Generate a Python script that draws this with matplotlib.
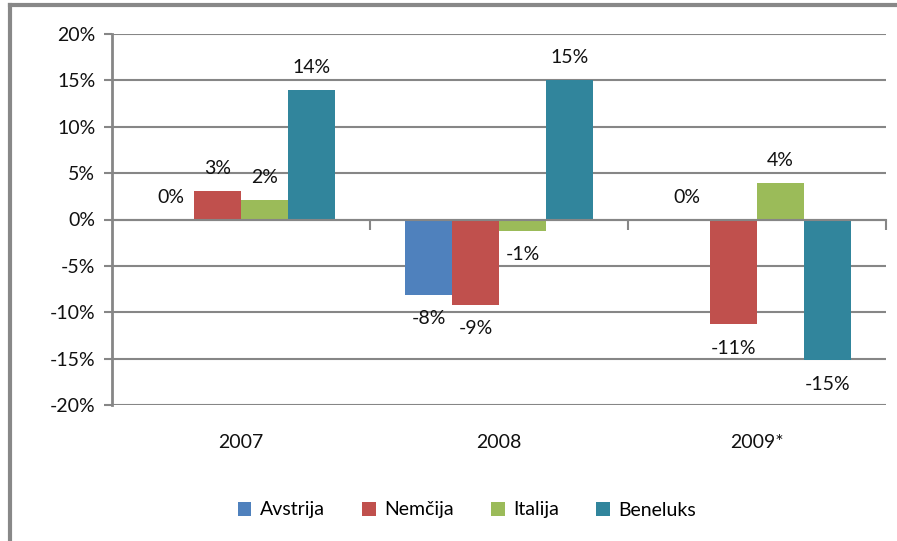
import numpy as np
import matplotlib.pyplot as plt
from matplotlib.lines import Line2D
from matplotlib.transforms import blended_transform_factory

plt.rcParams['font.family'] = ['Lato', 'DejaVu Sans']

years = ["2007", "2008", "2009*"]
series = ["Avstrija", "Nemčija", "Italija", "Beneluks"]
avstrija = [0.0, -8.1, 0.0]
nemcija = [3.1, -9.2, -11.3]
italija = [2.1, -1.2, 3.9]
beneluks = [14.0, 15.0, -15.2]
colors = ["#4F81BD", "#C0504D", "#9BBB59", "#31859C"]
yticks = np.arange(-20, 21, 5)

W, H = 897, 541
fig = plt.figure(figsize=(W / 100, H / 100), dpi=100)
ax = fig.add_axes([112 / W, 1 - 405 / H, (886 - 112) / W, (405 - 34) / H])

grid_c = "#868686"
fs = 14
x = np.arange(len(years))
bw = 1 / 5.5
values = [avstrija, nemcija, italija, beneluks]
for k, (name, vals, c) in enumerate(zip(series, values, colors)):
    pos = x + (k - 1.5) * bw
    ax.bar(pos, vals, width=bw, color=c, label=name, zorder=3)
    for px, v in zip(pos, vals):
        lab = f"{v:.0f}%"
        if v >= 0:
            ax.annotate(lab, (px, v), xytext=(0, 10), textcoords="offset points",
                        ha="center", va="bottom", fontsize=fs, color="#111111")
        else:
            ax.annotate(lab, (px, v), xytext=(0, -11), textcoords="offset points",
                        ha="center", va="top", fontsize=fs, color="#111111")

ax.set_xlim(-0.5, 2.5)
ax.set_ylim(-20, 20)
ax.set_yticks(yticks)
ax.set_yticklabels([f"{t}%" for t in yticks], fontsize=fs, color="#111111")
ax.tick_params(axis="y", length=6, width=1.5, color=grid_c, pad=6)
ax.yaxis.grid(True, color=grid_c, linewidth=1.5, zorder=1)
ax.set_axisbelow(True)

ax.spines["top"].set_visible(False)
ax.spines["right"].set_visible(False)
ax.spines["left"].set_color(grid_c)
ax.spines["left"].set_linewidth(2)
ax.spines["bottom"].set_position(("data", 0))
ax.spines["bottom"].set_color(grid_c)
ax.spines["bottom"].set_linewidth(1.5)
ax.spines["bottom"].set_zorder(4)
ax.set_xticks([0.5, 1.5, 2.5])
ax.set_xticklabels([])
ax.tick_params(axis="x", length=7, width=1.5, color=grid_c)

trans = blended_transform_factory(ax.transData, ax.transAxes)
for i, yl in enumerate(years):
    ax.text(i, -0.102, yl, transform=trans, ha="center", va="center",
            fontsize=fs, color="#111111")

fig.legend(loc="center", bbox_to_anchor=(467 / W, 1 - 510 / H), ncol=4,
           frameon=False, fontsize=fs, handlelength=0.7, handleheight=0.7,
           handletextpad=0.45, columnspacing=1.9)

# outer chart frame: only top and left edges are visible
fx, fy = 10 / W, 1 - 5 / H
fig.add_artist(Line2D([fx, 1], [fy, fy], transform=fig.transFigure,
                      color="#888888", linewidth=3))
fig.add_artist(Line2D([fx, fx], [0, fy], transform=fig.transFigure,
                      color="#888888", linewidth=3))

fig.savefig("out.png", dpi=100)
